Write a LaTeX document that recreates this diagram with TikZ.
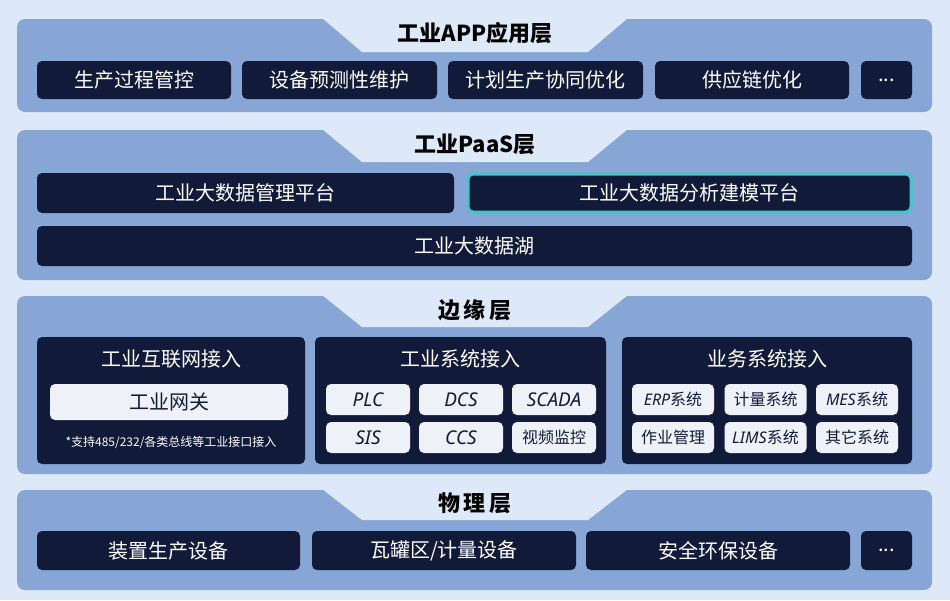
\documentclass[tikz,border=0pt]{standalone}
\usepackage{fontspec}
\setmainfont{Noto Sans CJK SC}
\newfontfamily\latb{Noto Sans}
\begin{document}
\begin{tikzpicture}[x=1pt,y=-1pt,
  panel/.style={fill=pan,rounded corners=8pt},
  dbox/.style={fill=dk,rounded corners=5pt,text=white,font=\fontsize{20}{22}\selectfont},
  lbox/.style={fill=lt,rounded corners=5pt,text=dk,font=\fontsize{16}{18}\selectfont},
  ttl/.style={text=black,font=\fontsize{22}{24}\selectfont\bfseries},
  sub/.style={text=white,font=\fontsize{20}{22}\selectfont}]
\definecolor{bg}{HTML}{DDE9F8}
\definecolor{pan}{HTML}{87A6D6}
\definecolor{dk}{HTML}{121A3A}
\definecolor{lt}{HTML}{EEF2F8}
\definecolor{cy}{HTML}{3EC8C8}
\fill[bg] (0,0) rectangle (950,600);
\useasboundingbox (0,0) rectangle (950,600);
% panels with notch
\newcommand\pnl[3]{% top, bottom, notch depth
  \fill[pan,rounded corners=8pt] (17,#1) rectangle (932,#2);
  \fill[bg] (322,#1-1) -- (362,#1+#3) -- (588,#1+#3) -- (628,#1-1) -- cycle;}
\pnl{19}{112}{33}
\pnl{130}{280}{32}
\pnl{296}{474}{31}
\pnl{490}{590}{30}
\node[ttl] (t1) at (475,33) {工业\textit{APP}应用层};
\node[ttl] (t2) at (475,144) {工业\textit{PaaS}层};
\node[ttl] (t3) at (475,310) {边\,缘\,层};
\node[ttl] (t4) at (475,503) {物\,理\,层};
\newcommand\db[6]{\node[dbox,minimum width=#3-#2,minimum height=#5-#4,#6] (#1) at ({(#2+#3)/2},{(#4+#5)/2}) {};}
% layer 1
\node[dbox,minimum width=194,minimum height=38] (a1) at (134,80) {生产过程管控};
\node[dbox,minimum width=195,minimum height=38] (a2) at (339.5,80) {设备预测性维护};
\node[dbox,minimum width=195,minimum height=38] (a3) at (545.5,80) {计划生产协同优化};
\node[dbox,minimum width=194,minimum height=38] (a4) at (752,80) {供应链优化};
\node[dbox,minimum width=51,minimum height=38] (a5) at (886.5,80) {...};
% layer 2
\node[dbox,minimum width=417,minimum height=40] (b1) at (245.5,193) {工业大数据管理平台};
\node[dbox,minimum width=443,minimum height=38,draw=cy,line width=3pt] (b2) at (689.5,193) {工业大数据分析建模平台};
\node[dbox,minimum width=875,minimum height=40] (b3) at (474.5,246) {工业大数据湖};
% layer 3
\node[dbox,minimum width=268,minimum height=127] (c1) at (171,400.5) {};
\node[dbox,minimum width=291,minimum height=127] (c2) at (460.5,400.5) {};
\node[dbox,minimum width=290,minimum height=127] (c3) at (767,400.5) {};
\node[sub] (c1t) at (171,359) {工业互联网接入};
\node[sub] (c2t) at (460.5,359) {工业系统接入};
\node[sub] (c3t) at (767,359) {业务系统接入};
\node[lbox,minimum width=238,minimum height=36,font=\fontsize{20}{22}\selectfont] (gw) at (169,402) {工业网关};
\node[text=white,font=\fontsize{12}{14}\selectfont] (note) at (171,442) {*支持485/232/各类总线等工业接口接入};
\tikzset{sb/.style={lbox,minimum width=84,minimum height=31,inner sep=1pt},
  lat/.style={font=\latb\fontsize{19}{21}\selectfont\bfseries\itshape}}
\node[sb,lat] (m1) at (368,399.5) {PLC};
\node[sb,lat] (m2) at (461,399.5) {DCS};
\node[sb,lat] (m3) at (554,399.5) {SCADA};
\node[sb,lat] (m4) at (368,437.5) {SIS};
\node[sb,lat] (m5) at (461,437.5) {CCS};
\node[sb] (m6) at (554,437.5) {视频监控};
\tikzset{rb/.style={sb,minimum width=82}}
\node[rb] (r1) at (673,399.5) {\textbf{\textit{\latb ERP}}系统};
\node[rb] (r2) at (765.5,399.5) {计量系统};
\node[rb] (r3) at (857,399.5) {\textbf{\textit{\latb MES}}系统};
\node[rb] (r4) at (673,437.5) {作业管理};
\node[rb] (r5) at (765.5,437.5) {\textbf{\textit{\latb LIMS}}系统};
\node[rb] (r6) at (857,437.5) {其它系统};
% layer 4
\node[dbox,minimum width=263,minimum height=39] (d1) at (168.5,550.5) {装置生产设备};
\node[dbox,minimum width=264,minimum height=39] (d2) at (444,550.5) {瓦罐区/计量设备};
\node[dbox,minimum width=264,minimum height=39] (d3) at (718,550.5) {安全环保设备};
\node[dbox,minimum width=51,minimum height=39] (d4) at (886.5,550.5) {...};
\end{tikzpicture}
\end{document}
